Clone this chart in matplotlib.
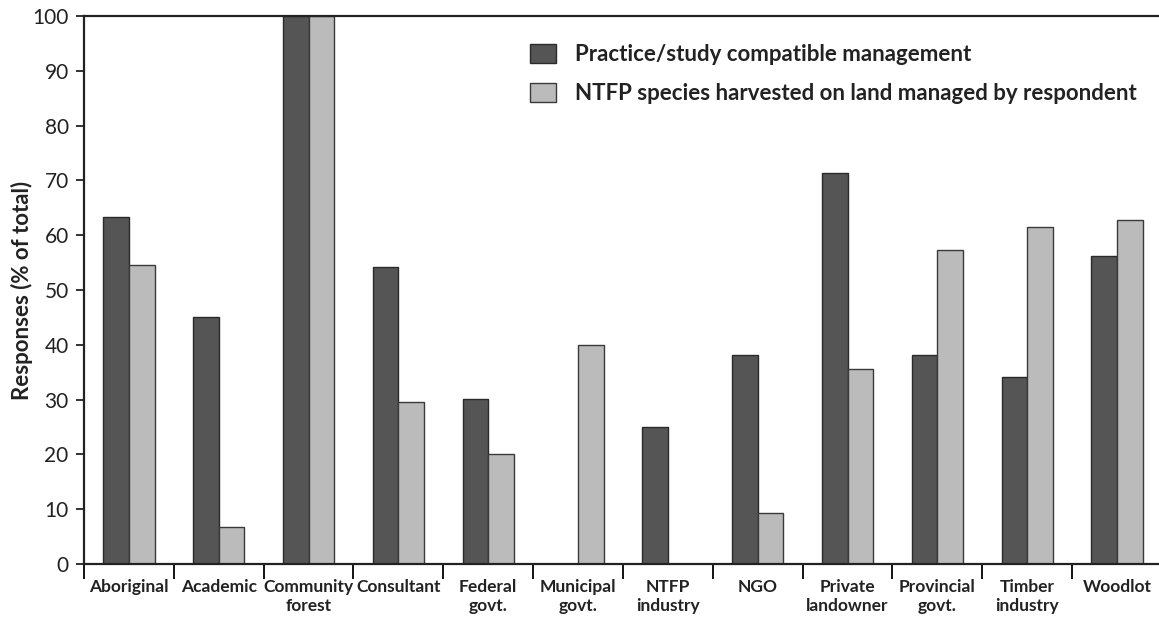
import numpy as np
import matplotlib.pyplot as plt

categories = ["Aboriginal", "Academic", "Community\nforest", "Consultant", "Federal\ngovt.",
              "Municipal\ngovt.", "NTFP\nindustry", "NGO", "Private\nlandowner",
              "Provincial\ngovt.", "Timber\nindustry", "Woodlot"]
practice = [63.3, 45.0, 100.0, 54.2, 30.2, 0.0, 25.0, 38.2, 71.3, 38.2, 34.2, 56.2]
harvested = [54.5, 6.8, 100.0, 29.5, 20.1, 40.0, 0.0, 9.3, 35.6, 57.3, 61.5, 62.7]

plt.rcParams['font.family'] = ['Lato', 'DejaVu Sans']

fig = plt.figure(figsize=(11.59, 6.22), dpi=100)
ax = fig.add_axes([0.0725, 0.0932, 0.93, 0.8811])

x = np.arange(len(categories))
w = 0.285
ax.bar(x - w / 2, practice, w, color='#555555', edgecolor='#2a2a2a', linewidth=1,
       label='Practice/study compatible management')
ax.bar(x + w / 2, harvested, w, color='#bbbbbb', edgecolor='#3a3a3a', linewidth=1,
       label='NTFP species harvested on land managed by respondent')

ax.set_xlim(-0.5, len(categories) - 0.5)
ax.set_ylim(0, 100)
ax.set_yticks(range(0, 101, 10))
ax.tick_params(axis='y', labelsize=15, direction='out', length=6, width=1.3,
               colors='#222222', pad=5)

ax.set_xticks(x)
ax.set_xticklabels(categories, fontsize=12.5, fontweight='bold', linespacing=1.2)
ax.tick_params(axis='x', length=0, pad=11, colors='#222222')
ax.set_xticks(np.arange(-0.5, len(categories), 1), minor=True)
ax.tick_params(axis='x', which='minor', length=11, width=1.3, direction='out')

for s in ['left', 'top', 'bottom']:
    ax.spines[s].set_linewidth(1.6)
    ax.spines[s].set_color('#222222')
ax.spines['right'].set_visible(False)

ax.set_ylabel('Responses (% of total)', fontsize=16, fontweight='bold', color='#222222')
ax.yaxis.set_label_coords(-0.047, 0.5)

leg = ax.legend(loc='upper left', bbox_to_anchor=(0.395, 0.985), frameon=False,
                prop={'size': 16, 'weight': 'bold'}, handlelength=1.2, handleheight=0.9,
                labelspacing=0.8, handletextpad=0.85)
for t in leg.get_texts():
    t.set_color('#222222')

fig.savefig('out.png', dpi=100)
